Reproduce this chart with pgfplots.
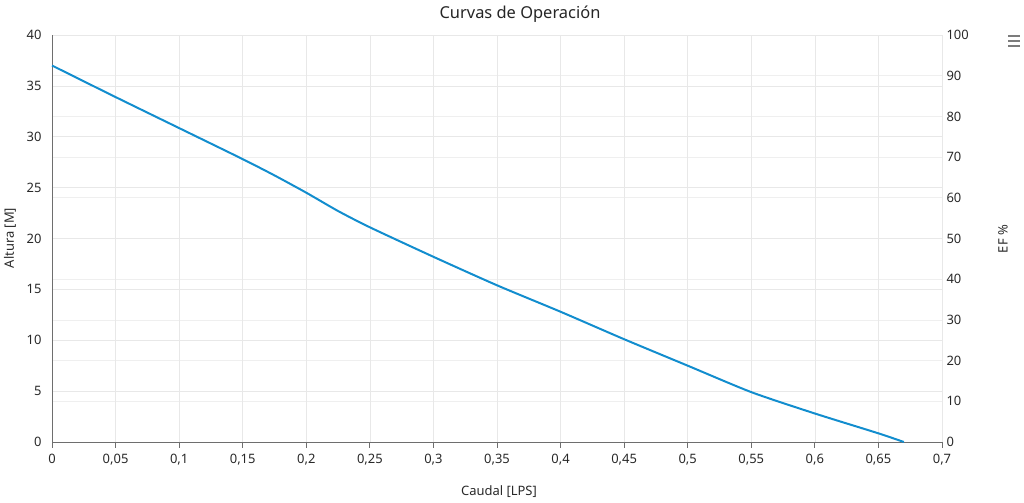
\documentclass[border=0pt]{standalone}
\usepackage{pgfplots}
\pgfplotsset{compat=1.18}
\usepackage{fontspec}
\setmainfont{Noto Sans}
\definecolor{curveblue}{RGB}{18,141,206}
\definecolor{gridgray}{RGB}{232,232,232}
\definecolor{axisgray}{RGB}{110,110,110}
\definecolor{labelgray}{RGB}{40,40,40}

\begin{document}
\begin{tikzpicture}[x=1bp,y=1bp]
\useasboundingbox (0,0) rectangle (1024,503);
% right axis (EF %), drawn first so its grid stays under the curve
\begin{axis}[
    at={(52bp,61bp)}, anchor=origin,
    width=890bp, height=407bp, scale only axis,
    xmin=0, xmax=0.7, ymin=0, ymax=100,
    axis x line=none, axis y line*=right,
    y axis line style={draw=none},
    ytick={0,10,20,30,40,50,60,70,80,90,100},
    yticklabels={0,10,20,30,40,50,60,70,80,90,100},
    ytick style={draw=none},
    ymajorgrids,
    major grid style={gridgray!70, line width=0.6pt},
    yticklabel style={font=\fontsize{13}{15}\selectfont, text=labelgray, xshift=1bp},
]
\end{axis}
% left axis (Altura)
\begin{axis}[
    at={(52bp,61bp)}, anchor=origin,
    width=890bp, height=407bp, scale only axis,
    xmin=0, xmax=0.7, ymin=0, ymax=40,
    axis y line*=left, axis x line*=bottom,
    axis line style={axisgray, line width=0.8pt},
    xtick={0,0.05,0.1,0.15,0.2,0.25,0.3,0.35,0.4,0.45,0.5,0.55,0.6,0.65,0.7},
    xticklabels={0,{0,05},{0,1},{0,15},{0,2},{0,25},{0,3},{0,35},{0,4},{0,45},{0,5},{0,55},{0,6},{0,65},{0,7}},
    ytick={0,5,10,15,20,25,30,35,40},
    yticklabels={0,5,10,15,20,25,30,35,40},
    xtick style={axisgray, line width=0.8pt},
    ytick style={draw=none},
    tick align=outside, major tick length=6bp,
    xmajorgrids, ymajorgrids,
    major grid style={gridgray, line width=0.6pt},
    ticklabel style={font=\fontsize{13}{15}\selectfont, text=labelgray},
    xticklabel style={yshift=-3bp},
    yticklabel style={xshift=-1bp},
    clip=false,
]
\addplot[curveblue, line width=2pt, smooth, tension=0.4] coordinates {
    (0,37.0) (0.05,33.9) (0.1,30.85) (0.15,27.8) (0.175,26.2) (0.2,24.5)
    (0.225,22.7) (0.25,21.1) (0.3,18.2) (0.35,15.4) (0.4,12.8) (0.45,10.1)
    (0.5,7.5) (0.55,4.9) (0.6,2.8) (0.65,0.85) (0.67,0)
};
\end{axis}
\node[font=\fontsize{16.5}{19}\selectfont, text=black!85] at (520,489) {Curvas de Operación};
\node[font=\fontsize{13}{15}\selectfont, text=labelgray] at (499,11) {Caudal [LPS]};
\node[font=\fontsize{13}{15}\selectfont, text=labelgray, rotate=90] at (10,265) {Altura [M]};
\node[font=\fontsize{13}{15}\selectfont, text=labelgray, rotate=90] at (1003,264) {EF \%};
\draw[axisgray!90, line width=2pt] (1008,467) -- (1020,467) (1008,462) -- (1020,462) (1008,457) -- (1020,457);
\end{tikzpicture}
\end{document}
